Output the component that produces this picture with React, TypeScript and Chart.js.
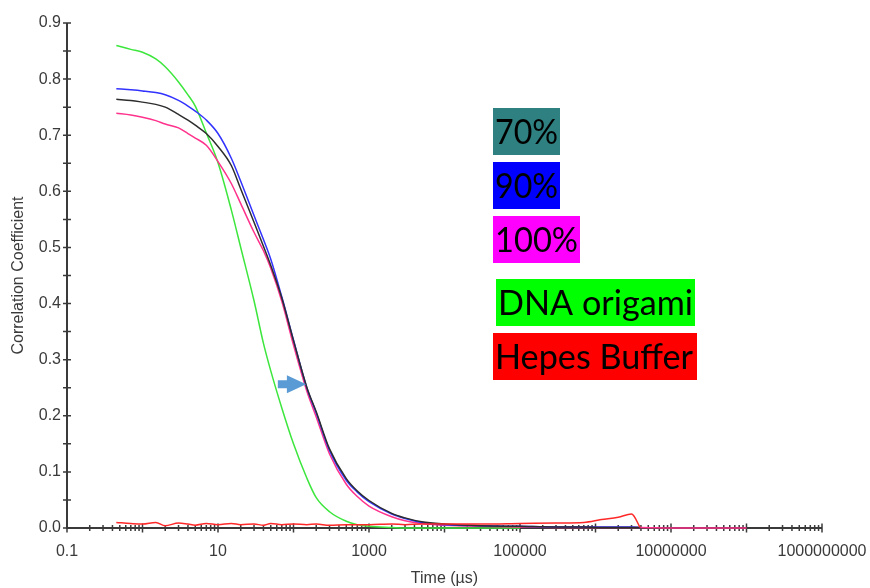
import { useEffect, useRef } from 'react';
import { Chart, registerables } from 'chart.js';

Chart.register(...registerables);

// ---- data ----
const times = [0.45, 0.7, 1, 1.5, 2, 3, 4, 5, 7, 10, 15, 20, 30, 40, 50, 70, 100, 150, 200, 300, 500, 700, 1000, 2000, 3000, 5000, 1e4, 3e4, 1e5, 3e5, 7e5, 1.2e6, 2e6, 3e6, 3.9e6, 1e7, 1e8];

const dnaOrigami = [0.860, 0.853, 0.848, 0.836, 0.822, 0.795, 0.772, 0.752, 0.704, 0.651, 0.567, 0.500, 0.405, 0.329, 0.280, 0.214, 0.150, 0.089, 0.054, 0.029, 0.012, 0.006, 0.003, 0.001, 0.0, 0.0, 0.0, 0.0, 0.0, null, null, null, null, null, null, null, null];
const pct90 = [0.783, 0.781, 0.779, 0.776, 0.772, 0.762, 0.752, 0.743, 0.727, 0.703, 0.659, 0.618, 0.557, 0.514, 0.479, 0.412, 0.335, 0.250, 0.205, 0.138, 0.085, 0.064, 0.047, 0.025, 0.017, 0.010, 0.006, 0.004, 0.003, 0.002, 0.002, 0.002, 0.002, 0.002, 0.001, null, null];
const pct70 = [0.764, 0.762, 0.759, 0.755, 0.750, 0.737, 0.727, 0.718, 0.703, 0.680, 0.646, 0.604, 0.545, 0.502, 0.468, 0.410, 0.334, 0.251, 0.207, 0.141, 0.088, 0.066, 0.049, 0.026, 0.018, 0.011, 0.007, 0.004, 0.003, 0.002, 0.002, 0.001, 0.001, 0.001, 0.001, null, null];
const pct100 = [0.739, 0.736, 0.732, 0.726, 0.720, 0.713, 0.703, 0.695, 0.682, 0.653, 0.614, 0.578, 0.527, 0.494, 0.463, 0.404, 0.326, 0.244, 0.198, 0.132, 0.078, 0.056, 0.039, 0.020, 0.013, 0.008, 0.005, 0.003, 0.002, 0.001, 0.001, 0.001, 0.001, 0.001, 0.001, 0.0, 0.0];
const hepesBuffer = [0.010, 0.008, 0.007, 0.010, 0.004, 0.009, 0.007, 0.005, 0.008, 0.006, 0.008, 0.006, 0.007, 0.005, 0.008, 0.006, 0.007, 0.006, 0.007, 0.005, 0.006, 0.006, 0.006, 0.007, 0.006, 0.007, 0.007, 0.007, 0.008, 0.009, 0.010, 0.015, 0.019, 0.025, 0.001, null, null];

const xTickLabels = ['0.1', '10', '1000', '100000', '10000000', '1000000000'];
const legendLabels = ['70%', '90%', '100%', 'DNA origami', 'Hepes Buffer'];
const arrowFrom = 62;
const arrowTo = 147;
const arrowLevel = 0.256;

// ---- styles ----
const legendBoxes = [
  { x: 493, y: 108, w: 67, h: 47, tw: 63, color: '#2f8080' },
  { x: 493, y: 162, w: 67, h: 47, tw: 63, color: '#0000ff' },
  { x: 493, y: 216, w: 87, h: 47, tw: 83, color: '#ff00ff' },
  { x: 496, y: 279, w: 199, h: 47, tw: 195, color: '#00ff00' },
  { x: 493, y: 333, w: 204, h: 47, tw: 198, color: '#ff0000' },
];

const toPts = (vals: (number | null)[]) => times.map((t, i) => ({ x: t, y: vals[i] }));

const axisPlugin = {
  id: 'customAxes',
  beforeDatasetsDraw(chart: any) {
    const { ctx, chartArea: ca, scales } = chart;
    const x = scales.x, y = scales.y;
    ctx.save();
    ctx.strokeStyle = '#3a3a3a';
    ctx.lineWidth = 2;
    ctx.beginPath();
    ctx.moveTo(ca.left, ca.top);
    ctx.lineTo(ca.left, ca.bottom);
    ctx.lineTo(ca.right, ca.bottom);
    ctx.stroke();
    ctx.lineWidth = 1.5;
    ctx.beginPath();
    x.ticks.forEach((t: any) => {
      const px = x.getPixelForValue(t.value);
      const lg = Math.log10(t.value);
      const major = Math.abs(lg - Math.round(lg)) < 1e-6;
      const h = major ? 4.5 : 3;
      ctx.moveTo(px, ca.bottom - h);
      ctx.lineTo(px, ca.bottom + h);
    });
    y.ticks.forEach((t: any) => {
      const py = y.getPixelForValue(t.value);
      ctx.moveTo(ca.left - 4, py);
      ctx.lineTo(ca.left + 4, py);
    });
    ctx.stroke();
    ctx.restore();
  },
  afterDraw(chart: any) {
    const { ctx, scales } = chart;
    ctx.save();
    // arrow
    const x0 = scales.x.getPixelForValue(arrowFrom);
    const x1 = scales.x.getPixelForValue(arrowTo);
    const yc = scales.y.getPixelForValue(arrowLevel);
    const headLen = (x1 - x0) * 0.68;
    ctx.fillStyle = '#5b9bd5';
    ctx.beginPath();
    ctx.moveTo(x0, yc - 4);
    ctx.lineTo(x1 - headLen, yc - 4);
    ctx.lineTo(x1 - headLen, yc - 9);
    ctx.lineTo(x1, yc);
    ctx.lineTo(x1 - headLen, yc + 9);
    ctx.lineTo(x1 - headLen, yc + 4);
    ctx.lineTo(x0, yc + 4);
    ctx.closePath();
    ctx.fill();
    // legend boxes
    ctx.font = '35px Lato';
    ctx.textBaseline = 'alphabetic';
    ctx.textAlign = 'left';
    legendLabels.forEach((label, i) => {
      const b = legendBoxes[i];
      ctx.fillStyle = b.color;
      ctx.fillRect(b.x, b.y, b.w, b.h);
      ctx.fillStyle = '#000';
      ctx.fillText(label, b.x + 2, b.y + 36, b.tw);
    });
    ctx.restore();
  },
};

function buildXTicks() {
  const out: { value: number }[] = [];
  for (let e = -1; e <= 8; e++) {
    for (let m = 1; m <= 9; m++) {
      out.push({ value: Number((m * Math.pow(10, e)).toPrecision(12)) });
    }
  }
  out.push({ value: 1e9 });
  return out;
}

export default function App() {
  const ref = useRef<HTMLCanvasElement>(null);
  useEffect(() => {
    if (!ref.current) return;
    const font = { family: "'Liberation Sans', Arial, sans-serif", size: 16 };
    const chart = new Chart(ref.current, {
      type: 'line',
      data: {
        datasets: [
          { label: 'Hepes Buffer', data: toPts(hepesBuffer), borderColor: 'rgb(255,40,40)' },
          { label: '70%', data: toPts(pct70), borderColor: 'rgb(45,45,45)' },
          { label: '90%', data: toPts(pct90), borderColor: 'rgb(50,50,255)' },
          { label: '100%', data: toPts(pct100), borderColor: 'rgb(255,50,140)' },
          { label: 'DNA origami', data: toPts(dnaOrigami), borderColor: 'rgb(60,230,60)' },
        ].map((d) => ({
          ...d,
          borderWidth: 1.5,
          pointRadius: 0,
          fill: false,
          cubicInterpolationMode: 'monotone' as const,
          spanGaps: false,
          clip: false as any,
        })),
      },
      options: {
        responsive: false,
        animation: false,
        layout: { padding: { top: 23, right: 48, left: 0, bottom: 0 } },
        plugins: { legend: { display: false }, tooltip: { enabled: false } },
        scales: {
          x: {
            type: 'logarithmic',
            min: 0.1,
            max: 1e9,
            grid: { display: false, drawTicks: false },
            border: { display: false },
            afterBuildTicks: (s: any) => { s.ticks = buildXTicks(); },
            afterFit: (s: any) => { s.height = 60; s.paddingRight = 0; s.paddingLeft = 0; },
            ticks: {
              autoSkip: false,
              maxRotation: 0,
              padding: 14,
              color: '#3a3a3a',
              font,
              callback: (v: any) => {
                const s = String(Number(v));
                return xTickLabels.includes(s) ? s : '';
              },
            },
            title: { display: true, text: 'Time (µs)', color: '#3a3a3a', font, padding: { top: 0, bottom: 0 } },
          },
          y: {
            min: 0,
            max: 0.9,
            grid: { display: false, drawTicks: false },
            border: { display: false },
            afterFit: (s: any) => { s.width = 67; s.paddingTop = 0; s.paddingBottom = 0; },
            ticks: {
              stepSize: 0.05,
              autoSkip: false,
              padding: 6,
              color: '#3a3a3a',
              font,
              callback: (v: any) => (Math.round(Number(v) * 20) % 2 === 0 ? Number(v).toFixed(1) : ''),
            },
            title: { display: true, text: 'Correlation Coefficient', color: '#3a3a3a', font, padding: { top: 9, bottom: 0 } },
          },
        },
      },
      plugins: [axisPlugin],
    } as any);
    return () => chart.destroy();
  }, []);
  return (
    <div style={{ position: 'absolute', left: 0, top: 0, width: 870, height: 588, background: '#fff' }}>
      <canvas ref={ref} width={870} height={588} style={{ display: 'block' }} />
    </div>
  );
}
